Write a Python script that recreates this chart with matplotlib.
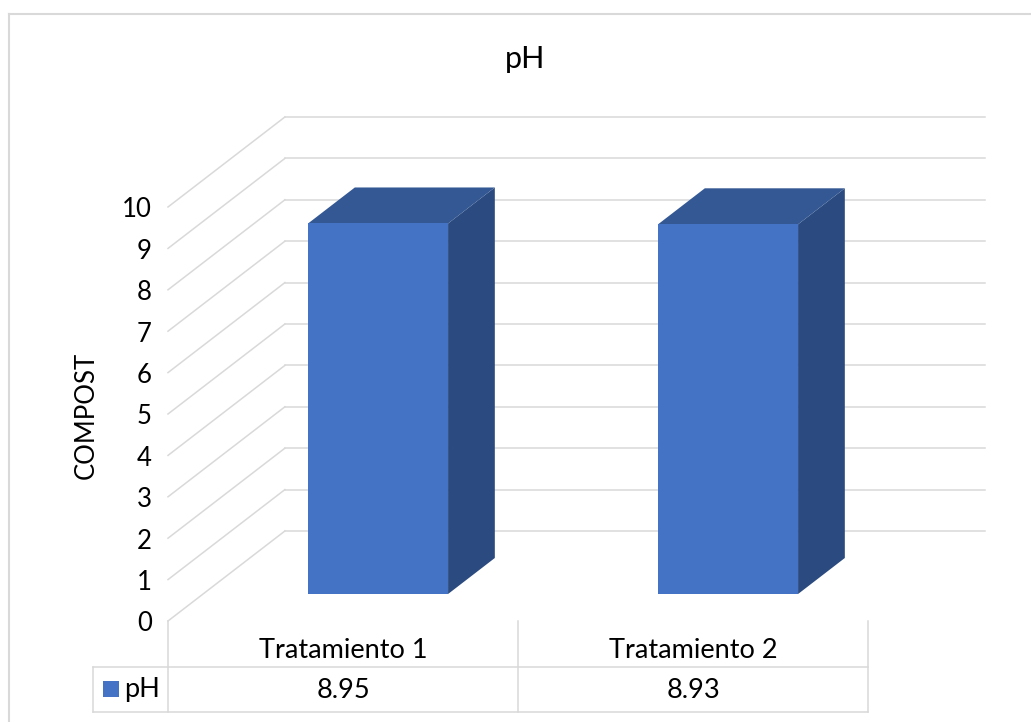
import matplotlib
matplotlib.use("Agg")
import matplotlib.pyplot as plt
from matplotlib.patches import Polygon

plt.rcParams['font.family'] = ['Lato', 'DejaVu Sans']

# data
categories = ['Tratamiento 1', 'Tratamiento 2']
series_name = 'pH'
ph_values = [8.95, 8.93]
y_ticks = list(range(0, 11))

# colours (Excel default blue + shaded faces)
FRONT = '#4472C4'
TOP = '#335894'
SIDE = '#2B4A7F'
GRID = '#D9D9D9'

# oblique 3d: depth shift of the back wall in data units
DX, DY = 0.334, 2.174
BAR_W = 0.4
D0, D1 = 0.3, 0.7

fig = plt.figure(figsize=(10.31, 7.22), dpi=100)
ax = fig.add_axes([0, 0, 1, 1])
# x in category units (0 -> 168px, 350px per category), y in value units (0 -> 621px, 41.4px per unit)
ax.set_xlim(-168 / 350, (1031 - 168) / 350)
ax.set_ylim(-101 / 41.4, 621 / 41.4)
ax.axis('off')


def px_x(p):
    return (p - 168) / 350


def px_y(p):
    return (621 - p) / 41.4


def proj(x, y, d):
    return (x + d * DX, y + d * DY)


# back wall gridlines + left wall diagonals
ncat = len(categories)
for v in y_ticks:
    x0, y0 = proj(0, v, 1)
    x1, _ = proj(ncat, v, 1)
    ax.plot([x0, x1], [y0, y0], color=GRID, lw=1.1, zorder=1)
    ax.plot([0, x0], [v, y0], color=GRID, lw=1.1, zorder=1)
    ax.text(px_x(152), v - 0.07, str(v), ha='right', va='center', fontsize=18.5, color='#000000')

# bars
for i, val in enumerate(ph_values):
    xl = i + 0.5 - BAR_W / 2
    xr = i + 0.5 + BAR_W / 2
    front = [proj(xl, 0, D0), proj(xr, 0, D0), proj(xr, val, D0), proj(xl, val, D0)]
    top = [proj(xl, val, D0), proj(xr, val, D0), proj(xr, val, D1), proj(xl, val, D1)]
    side = [proj(xr, 0, D0), proj(xr, 0, D1), proj(xr, val, D1), proj(xr, val, D0)]
    ax.add_patch(Polygon(side, closed=True, facecolor=SIDE, edgecolor='none', zorder=3))
    ax.add_patch(Polygon(top, closed=True, facecolor=TOP, edgecolor='none', zorder=3))
    ax.add_patch(Polygon(front, closed=True, facecolor=FRONT, edgecolor='none', zorder=4))

# data table
y_row_top = px_y(667)
y_row_bot = px_y(712)
x_tab_left = px_x(93)
for k in range(ncat + 1):
    ax.plot([k, k], [0, y_row_bot], color=GRID, lw=1.1, zorder=1)
ax.plot([x_tab_left, ncat], [y_row_top, y_row_top], color=GRID, lw=1.1, zorder=1)
ax.plot([x_tab_left, ncat], [y_row_bot, y_row_bot], color=GRID, lw=1.1, zorder=1)
ax.plot([x_tab_left, x_tab_left], [y_row_top, y_row_bot], color=GRID, lw=1.1, zorder=1)

for i, (cat, val) in enumerate(zip(categories, ph_values)):
    ax.text(i + 0.5, px_y(651), cat, ha='center', va='center', fontsize=19.5)
    ax.text(i + 0.5, px_y(690), f'{val:.2f}', ha='center', va='center', fontsize=19.5)

ax.add_patch(Polygon([(px_x(103), px_y(681)), (px_x(119), px_y(681)),
                      (px_x(119), px_y(697)), (px_x(103), px_y(697))],
                     closed=True, facecolor=FRONT, edgecolor='none'))
ax.text(px_x(124), px_y(690), series_name, ha='left', va='center', fontsize=19.5)

# title and axis label
ax.text(px_x(525), px_y(59), 'pH', ha='center', va='center', fontsize=22)
ax.text(px_x(86), px_y(415), 'COMPOST', ha='center', va='center', rotation=90, fontsize=18.5)

# chart border (top and left visible)
ax.plot([px_x(9), px_x(1031)], [px_y(14), px_y(14)], color=GRID, lw=1.5, clip_on=False)
ax.plot([px_x(9), px_x(9)], [px_y(14), px_y(722)], color=GRID, lw=1.5, clip_on=False)

fig.savefig('out.png', dpi=100)
